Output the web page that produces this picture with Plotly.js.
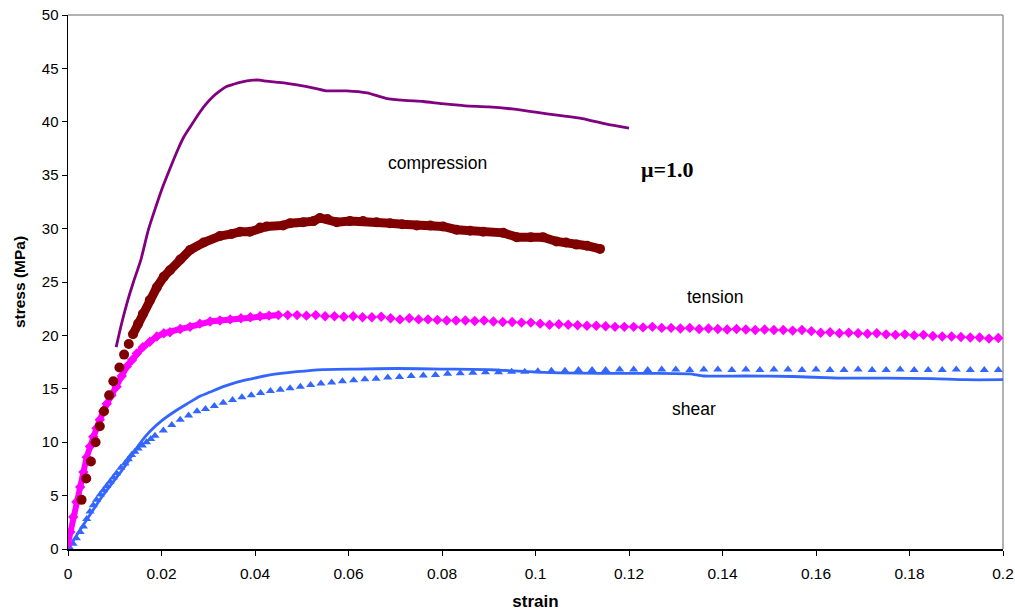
<!DOCTYPE html>
<html>
<head>
<meta charset="utf-8">
<script src="https://cdn.plot.ly/plotly-3.0.1.min.js"></script>
<style>html,body{margin:0;padding:0;background:#fff;}#chart{width:1015px;height:611px;}</style>
</head>
<body>
<div id="chart"></div>
<script>
// ---- data ----
var compX = [0.0103,0.0114,0.0128,0.0140,0.0156,0.0172,0.0186,0.0200,0.0218,0.0236,0.0248,0.0261,0.0282,0.0296,0.0311,0.0325,0.0339,0.0353,0.0368,0.0396,0.0410,0.0425,0.0447,0.0468,0.0511,0.0553,0.0596,0.0640,0.0680,0.0720,0.0760,0.0800,0.0850,0.0900,0.0950,0.1000,0.1050,0.1100,0.1150,0.1200];
var compY = [18.9,21.0,23.3,25.0,27.1,29.9,31.8,33.6,35.6,37.5,38.6,39.5,40.9,41.7,42.4,42.9,43.3,43.5,43.7,43.9,43.9,43.8,43.7,43.6,43.3,42.9,42.9,42.7,42.2,42.0,41.9,41.7,41.5,41.4,41.2,40.9,40.6,40.3,39.8,39.4];

var compExpX = [0.0029,0.0039,0.0049,0.0059,0.0068,0.0077,0.0088,0.0097,0.0110,0.0120,0.0130,0.0139,0.0150,0.0160,0.0175,0.0190,0.0205,0.0218,0.0240,0.0261,0.0290,0.0325,0.0350,0.0368,0.0389,0.0411,0.0425,0.0460,0.0475,0.0503,0.0525,0.0539,0.0555,0.0575,0.0603,0.0631,0.0660,0.0689,0.0715,0.0746,0.0775,0.0802,0.0831,0.0860,0.0888,0.0931,0.0960,0.0990,0.1016,0.1045,0.1065,0.1088,0.1110,0.1138];
var compExpY = [4.6,6.6,8.2,10.0,11.5,12.9,14.4,15.7,17.0,18.2,19.2,20.1,21.1,22.0,23.3,24.5,25.5,26.1,27.1,28.0,28.7,29.3,29.5,29.7,29.7,30.1,30.2,30.3,30.5,30.6,30.7,31.0,30.9,30.6,30.7,30.7,30.6,30.5,30.4,30.3,30.3,30.2,29.9,29.8,29.7,29.6,29.2,29.2,29.2,28.8,28.7,28.5,28.4,28.1];

var tensX = [0.0000,0.0005,0.0011,0.0018,0.0026,0.0033,0.0040,0.0047,0.0054,0.0061,0.0068,0.0075,0.0083,0.0093,0.0104,0.0115,0.0126,0.0137,0.0147,0.0160,0.0175,0.0190,0.0205,0.0218,0.0240,0.0261,0.0282,0.0304,0.0325,0.0347,0.0370,0.0390,0.0411,0.0430,0.0450,
  0.047,0.049,0.051,0.053,0.055,0.057,0.059,0.061,0.063,0.065,0.067,0.069,0.071,0.073,0.075,0.077,0.079,0.081,0.083,0.085,0.087,0.089,0.091,0.093,0.095,0.097,0.099,0.101,0.103,0.105,0.107,0.109,0.111,0.113,0.115,0.117,0.119,0.121,0.123,0.125,0.127,0.129,0.131,0.133,0.135,0.137,0.139,0.141,0.143,0.145,0.147,0.149,0.151,0.153,0.155,0.157,0.159,0.161,0.163,0.165,0.167,0.169,0.171,0.173,0.175,0.177,0.179,0.181,0.183,0.185,0.187,0.189,0.191,0.193,0.195,0.197,0.199];
var tensY = [0.5,1.6,3.0,4.4,5.8,7.2,8.6,9.6,10.5,11.3,12.1,12.9,13.6,14.4,15.2,16.2,17.1,17.7,18.3,18.9,19.4,19.9,20.2,20.3,20.6,20.8,21.1,21.3,21.4,21.5,21.6,21.7,21.8,21.85,21.9,
  21.9,21.9,21.85,21.9,21.8,21.8,21.75,21.8,21.7,21.7,21.75,21.6,21.5,21.6,21.5,21.5,21.45,21.4,21.4,21.4,21.35,21.4,21.3,21.25,21.25,21.2,21.2,21.1,21.0,21.05,21.0,20.95,20.9,20.9,20.85,20.8,20.8,20.8,20.75,20.8,20.7,20.7,20.65,20.7,20.6,20.65,20.6,20.55,20.6,20.55,20.5,20.55,20.5,20.5,20.45,20.5,20.4,20.25,20.3,20.2,20.25,20.2,20.15,20.2,20.1,20.05,20.1,20.0,20.05,19.95,19.9,19.9,19.85,19.8,19.8,19.7,19.75];

var shearX = [0.0000,0.0013,0.0026,0.0047,0.0068,0.0090,0.0111,0.0126,0.0140,0.0154,0.0175,0.0200,0.0229,0.0255,0.0282,0.0304,0.0332,0.0360,0.0389,0.0432,0.0489,0.0546,0.0618,0.0703,0.0800,0.0900,0.0985,0.1050,0.1140,0.1250,0.1330,0.1360,0.1450,0.1550,0.1650,0.1750,0.1850,0.1920,0.2000];
var shearY = [0.0,0.9,1.8,3.2,4.6,5.9,7.1,8.0,9.0,9.9,11.0,12.0,12.9,13.6,14.3,14.7,15.2,15.6,15.9,16.3,16.6,16.8,16.85,16.9,16.85,16.8,16.6,16.5,16.45,16.45,16.4,16.2,16.2,16.15,16.0,16.0,15.95,15.85,15.85];

var shearExpX = [0.0004,0.0011,0.0018,0.0026,0.0033,0.0040,0.0047,0.0054,0.0061,0.0069,0.0076,0.0083,0.0090,0.0097,0.0104,0.0113,0.0122,0.0129,0.0136,0.0143,0.0150,0.0159,0.0168,0.0177,0.0186,0.0204,0.0222,0.0240,0.0258,0.0276,0.0294,0.0313,0.0332,0.0352,0.0372,0.0392,0.0412,0.0433,0.0454,0.0475,0.0497,0.0519,0.0541,0.0564,0.0587,0.0611,0.0635,0.0659,0.0684,0.0709,0.0734,0.0760,0.0786,0.0812,0.0839,0.0866,0.0893,0.0921,0.0949,0.0977,0.1005,0.1034,0.1063,0.1092,0.1121,0.1150,0.1180,0.1210,0.1240,0.1270,0.1300,0.1330,0.1360,0.1390,0.1420,0.1450,0.1480,0.1510,0.1540,0.1570,0.1600,0.1630,0.1660,0.1690,0.1720,0.1750,0.1780,0.1810,0.1840,0.1870,0.1900,0.1930,0.1960,0.1990];
var shearExpY = [0.1,0.5,1.0,1.6,2.1,2.8,3.5,4.1,4.6,5.1,5.5,5.9,6.3,6.7,7.1,7.6,8.0,8.4,8.8,9.1,9.4,9.7,10.0,10.3,10.6,11.1,11.6,12.1,12.5,12.9,13.1,13.4,13.7,13.95,14.2,14.4,14.6,14.8,14.9,15.05,15.2,15.35,15.5,15.6,15.7,15.8,15.9,15.95,16.05,16.1,16.2,16.25,16.3,16.4,16.45,16.5,16.55,16.55,16.6,16.6,16.65,16.7,16.7,16.75,16.75,16.75,16.8,16.8,16.75,16.8,16.8,16.75,16.8,16.8,16.75,16.8,16.75,16.8,16.8,16.75,16.8,16.75,16.75,16.8,16.75,16.75,16.8,16.75,16.75,16.75,16.8,16.75,16.75,16.75];

var xTicks = [0,0.02,0.04,0.06,0.08,0.1,0.12,0.14,0.16,0.18,0.2];
var xTickText = ["0","0.02","0.04","0.06","0.08","0.1","0.12","0.14","0.16","0.18","0.2"];
var yTicks = [0,5,10,15,20,25,30,35,40,45,50];

var labels = [
  {text:"compression", x:0.0791, y:36.1},
  {text:"tension", x:0.1384, y:23.6},
  {text:"shear", x:0.1339, y:13.1}
];
var muLabel = {text:"<b>μ=1.0</b>", x:0.1283, y:35.5};

// ---- traces ----
var PURPLE = "#800080", DRED = "#800000", MAG = "#FF00FF", BLUE = "#3366FF";
var denseStart = 11;
var traces = [
  {x: shearExpX, y: shearExpY, mode:"markers", type:"scatter",
   marker:{symbol:"triangle-up", size:8, color:BLUE}},
  {x: shearX, y: shearY, mode:"lines", type:"scatter",
   line:{color:BLUE, width:2.8, shape:"spline", smoothing:0.6}},
  {x: tensX.slice(0,35), y: tensY.slice(0,35), mode:"lines", type:"scatter",
   line:{color:MAG, width:6}},
  {x: tensX, y: tensY, mode:"markers", type:"scatter",
   marker:{symbol:"diamond", size:8, color:MAG}},
  {x: compExpX.slice(denseStart), y: compExpY.slice(denseStart), mode:"lines", type:"scatter",
   line:{color:DRED, width:9}},
  {x: compExpX, y: compExpY, mode:"markers", type:"scatter",
   marker:{symbol:"circle", size:10, color:DRED}},
  {x: compX, y: compY, mode:"lines", type:"scatter",
   line:{color:PURPLE, width:2.8, shape:"spline", smoothing:0.6}}
];

var annotations = labels.map(function(l){
  return {text:l.text, x:l.x, y:l.y, xref:"x", yref:"y", showarrow:false,
          font:{family:"Liberation Sans, Arial", size:17.5, color:"#000"}};
});
annotations.push({text:muLabel.text, x:muLabel.x, y:muLabel.y, xref:"x", yref:"y", showarrow:false,
  font:{family:"Liberation Serif, Times New Roman", size:22, color:"#000"}});

var layout = {
  width:1015, height:611,
  margin:{l:68, r:12, t:15, b:62, pad:0},
  paper_bgcolor:"#fff", plot_bgcolor:"#fff",
  showlegend:false,
  font:{family:"Liberation Sans, Arial", size:15, color:"#000"},
  xaxis:{range:[0,0.2], tickvals:xTicks, ticktext:xTickText, ticks:"outside", ticklen:5, tickcolor:"#000",
         showgrid:false, zeroline:false, showline:true, linecolor:"#000", linewidth:1.5,
         ticklabelstandoff:5,
         tickfont:{size:15.5}, title:{text:"<b>strain</b>", font:{size:17}, standoff:16}},
  yaxis:{range:[0,50], tickvals:yTicks, ticks:"outside", ticklen:5, tickcolor:"#000",
         showgrid:false, zeroline:false, showline:true, linecolor:"#000", linewidth:1.5,
         tickfont:{size:15}, title:{text:"<b>stress (MPa)</b>", font:{size:15.5}, standoff:12}},
  shapes:[
    {type:"line", xref:"paper", yref:"paper", x0:0, x1:1, y0:1, y1:1, line:{color:"#999", width:1.5}, layer:"below"},
    {type:"line", xref:"paper", yref:"paper", x0:1, x1:1, y0:0, y1:1, line:{color:"#999", width:1.5}, layer:"below"}
  ],
  annotations:annotations
};

Plotly.newPlot("chart", traces, layout, {displayModeBar:false, staticPlot:true});
</script>
</body>
</html>
